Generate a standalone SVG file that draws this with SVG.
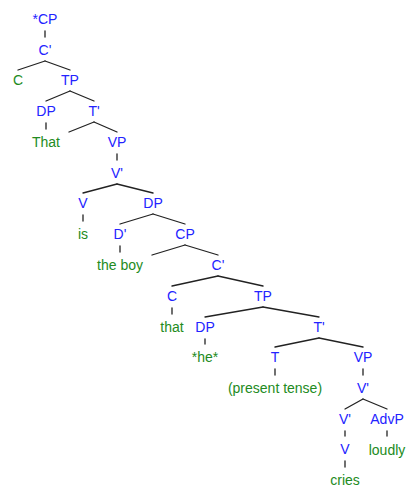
<svg xmlns="http://www.w3.org/2000/svg" width="420" height="499" viewBox="0 0 420 499">
<style>
text{font-family:"Liberation Sans",Arial,sans-serif;font-size:14px;text-anchor:middle}
.n{fill:#2323ff}
.w{fill:#228b22}
#edges line{stroke:#222;stroke-width:1.3;stroke-linecap:round}
</style>
<rect width="420" height="499" fill="#fff"/>
<g id="edges">
<line x1="45" y1="31" x2="45" y2="37"/>
<line x1="45" y1="61" x2="18" y2="70"/><line x1="45" y1="61" x2="70" y2="70"/>
<line x1="70" y1="91" x2="46" y2="101"/><line x1="70" y1="91" x2="94" y2="101"/>
<line x1="46" y1="123" x2="46" y2="129"/>
<line x1="94" y1="122" x2="69" y2="132"/><line x1="94" y1="122" x2="117" y2="132"/>
<line x1="117" y1="154" x2="117" y2="160"/>
<line x1="117" y1="184" x2="83" y2="193"/><line x1="117" y1="184" x2="153" y2="193"/>
<line x1="83" y1="215" x2="83" y2="221"/>
<line x1="153" y1="214" x2="120" y2="224"/><line x1="153" y1="214" x2="185" y2="224"/>
<line x1="120" y1="246" x2="120" y2="252"/>
<line x1="185" y1="245" x2="152" y2="255"/><line x1="185" y1="245" x2="218" y2="255"/>
<line x1="218" y1="276" x2="172" y2="286"/><line x1="218" y1="276" x2="263" y2="286"/>
<line x1="172" y1="308" x2="172" y2="314"/>
<line x1="263" y1="307" x2="205" y2="317"/><line x1="263" y1="307" x2="319" y2="317"/>
<line x1="205" y1="339" x2="205" y2="344"/>
<line x1="319" y1="338" x2="275" y2="347"/><line x1="319" y1="338" x2="363" y2="347"/>
<line x1="275" y1="369" x2="275" y2="375"/>
<line x1="363" y1="369" x2="363" y2="375"/>
<line x1="363" y1="399" x2="345" y2="409"/><line x1="363" y1="399" x2="387" y2="409"/>
<line x1="345" y1="431" x2="345" y2="436"/>
<line x1="387" y1="431" x2="387" y2="436"/>
<line x1="345" y1="461" x2="345" y2="467"/>
</g>
<g id="cp0"><text class="n" x="45" y="24">*CP</text></g>
<g id="c1"><text class="n" x="45" y="55">C'</text></g>
<g id="c2"><text class="w" x="18" y="85">C</text></g>
<g id="tp1"><text class="n" x="70" y="85">TP</text></g>
<g id="dp1"><text class="n" x="46" y="116">DP</text></g>
<g id="that1"><text class="w" x="46" y="147">That</text></g>
<g id="t1"><text class="n" x="94" y="116">T'</text></g>
<g id="vp1"><text class="n" x="117" y="147">VP</text></g>
<g id="v1"><text class="n" x="117" y="178">V'</text></g>
<g id="v2"><text class="n" x="83" y="208">V</text></g>
<g id="is"><text class="w" x="83" y="239">is</text></g>
<g id="dp2"><text class="n" x="153" y="208">DP</text></g>
<g id="d1"><text class="n" x="120" y="239">D'</text></g>
<g id="theboy"><text class="w" x="120" y="270">the boy</text></g>
<g id="cp2"><text class="n" x="185" y="239">CP</text></g>
<g id="c3"><text class="n" x="218" y="270">C'</text></g>
<g id="c4"><text class="n" x="172" y="301">C</text></g>
<g id="that2"><text class="w" x="172" y="332">that</text></g>
<g id="tp2"><text class="n" x="263" y="301">TP</text></g>
<g id="dp3"><text class="n" x="205" y="332">DP</text></g>
<g id="he"><text class="w" x="205" y="362">*he*</text></g>
<g id="t2"><text class="n" x="319" y="332">T'</text></g>
<g id="t3"><text class="n" x="275" y="362">T</text></g>
<g id="pres"><text class="w" x="275" y="393">(present tense)</text></g>
<g id="vp2"><text class="n" x="363" y="362">VP</text></g>
<g id="v3"><text class="n" x="363" y="393">V'</text></g>
<g id="v4"><text class="n" x="345" y="424">V'</text></g>
<g id="v5"><text class="n" x="345" y="454">V</text></g>
<g id="cries"><text class="w" x="345" y="485">cries</text></g>
<g id="advp"><text class="n" x="387" y="424">AdvP</text></g>
<g id="loudly"><text class="w" x="387" y="455">loudly</text></g>
</svg>
